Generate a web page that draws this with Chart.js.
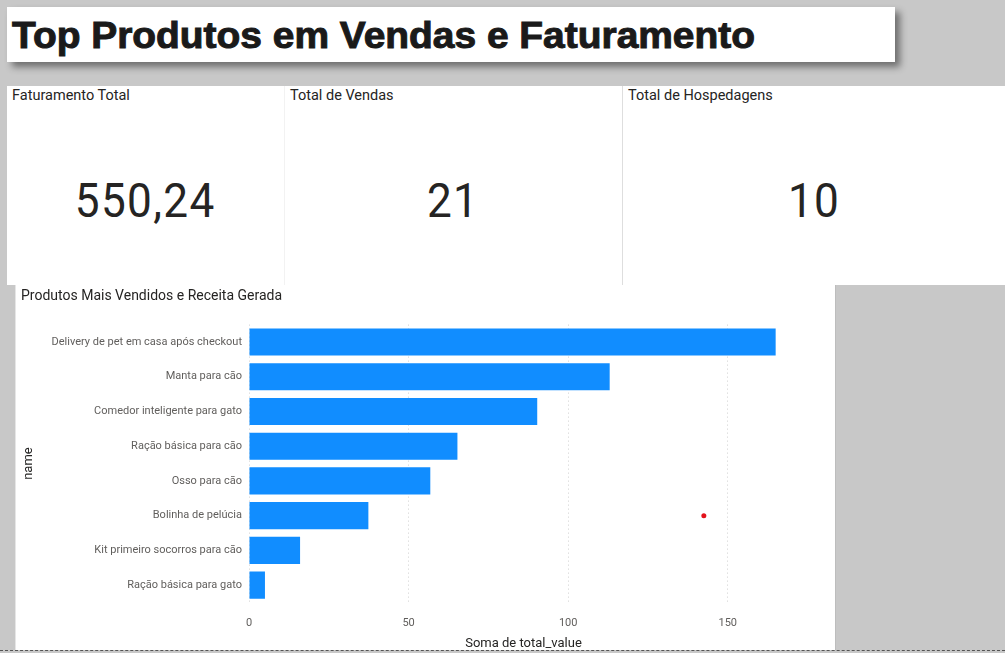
<!DOCTYPE html>
<html>
<head>
<meta charset="utf-8">
<script src="https://cdn.jsdelivr.net/npm/chart.js@4"></script>
<style>
  html, body { margin:0; padding:0; }
  body { width:1005px; height:653px; background:#c8c8c8; position:relative; overflow:hidden; font-family: Roboto, "Noto Sans", sans-serif; }
  .titlebox { position:absolute; left:7px; top:7px; width:888px; height:55px; background:#fff; box-shadow: 5px 5px 7px rgba(0,0,0,0.45); }
  .titlebox span { position:absolute; left:5px; top:7px; font-family:"Liberation Sans", Arial, sans-serif; font-weight:bold; font-size:37px; color:#1a1a1a; white-space:nowrap; transform-origin:left top; line-height:44px; -webkit-text-stroke:1px #1a1a1a; }
  .cards { position:absolute; left:7px; top:86px; width:998px; height:199px; background:#fff; }
  .card { position:absolute; top:0; height:199px; }
  .card .lbl { position:absolute; left:5px; top:1px; font-size:14.5px; color:#252423; white-space:nowrap; }
  .card .val { position:absolute; left:0; right:0; top:87px; text-align:center; font-size:49px; color:#252423; line-height:56px; letter-spacing:1.5px; }
  .div1 { position:absolute; left:277px; top:0; width:1px; height:199px; background:#f2f2f2; }
  .div2 { position:absolute; left:615px; top:0; width:1px; height:199px; background:#dedede; }
  .panel { position:absolute; left:15px; top:285px; width:821px; height:365px; background:#fff; border-right:1px solid #bdbdbd; border-left:1px solid #e6e6e6; box-sizing:border-box; overflow:visible; }
  .ptitle { position:absolute; left:5px; top:2px; font-size:14px; color:#252423; white-space:nowrap; }
  #c { position:absolute; left:0; top:0; }
  .dash { position:absolute; left:0; top:650px; width:1005px; height:0; border-top:1px dashed #555; }
</style>
</head>
<body>
<div class="titlebox"><span id="ttl">Top Produtos em Vendas e Faturamento</span></div>
<div class="cards">
  <div class="card" style="left:0;width:277px;"><div class="lbl">Faturamento Total</div><div class="val" id="v1"></div></div>
  <div class="card" style="left:278px;width:337px;"><div class="lbl">Total de Vendas</div><div class="val" id="v2"></div></div>
  <div class="card" style="left:616px;width:382px;"><div class="lbl">Total de Hospedagens</div><div class="val" id="v3"></div></div>
  <div class="div1"></div><div class="div2"></div>
</div>
<div class="panel">
  <canvas id="c" width="820" height="367"></canvas>
  <div class="ptitle">Produtos Mais Vendidos e Receita Gerada</div>
</div>
<div class="dash"></div>
<script>
const kpiLabels = ["Faturamento Total", "Total de Vendas", "Total de Hospedagens"];
const kpiValues = ["550,24", "21", "10"];
const categories = [
  "Delivery de pet em casa após checkout",
  "Manta para cão",
  "Comedor inteligente para gato",
  "Ração básica para cão",
  "Osso para cão",
  "Bolinha de pelúcia",
  "Kit primeiro socorros para cão",
  "Ração básica para gato"
];
const totalValue = [165.0, 113.0, 90.3, 65.3, 56.8, 37.4, 16.0, 5.0];
const markerPoint = [null, null, null, null, null, 142.5, null, null];
const xTicks = [0, 50, 100, 150];

['v1','v2','v3'].forEach((id, i) => {
  const el = document.getElementById(id);
  el.innerHTML = '<span style="display:inline-block;transform:scaleX(0.9);transform-origin:center;">' + kpiValues[i] + '</span>';
});

// fit title width
const ttl = document.getElementById('ttl');
const w = ttl.getBoundingClientRect().width;
ttl.style.transform = 'scaleX(' + (743 / w) + ')';

new Chart(document.getElementById('c'), {
  type: 'bar',
  data: {
    labels: categories,
    datasets: [
      {
        label: 'Soma de total_value',
        data: totalValue,
        backgroundColor: '#118DFF',
        borderWidth: 0,
        barPercentage: 0.78,
        categoryPercentage: 1.0,
        indexAxis: 'y'
      },
      {
        type: 'line',
        label: 'marker',
        data: markerPoint,
        indexAxis: 'y',
        showLine: false,
        pointRadius: 2.5,
        pointBackgroundColor: '#e3121b',
        pointBorderWidth: 0
      }
    ]
  },
  options: {
    indexAxis: 'y',
    responsive: false,
    animation: false,
    layout: { padding: { top: 39.6, right: 38, left: 0, bottom: 0 } },
    plugins: { legend: { display: false }, tooltip: { enabled: false } },
    scales: {
      x: {
        type: 'linear',
        min: 0,
        max: 172,
        afterFit: s => { s.height = 49.5; },
        afterBuildTicks: s => { s.ticks = xTicks.map(v => ({ value: v })); },
        grid: { color: '#cfcfcf', drawTicks: false, lineWidth: 1 },
        border: { display: false, dash: [1, 3] },
        ticks: { color: '#605E5C', font: { family: 'Roboto', size: 11 }, padding: 14 },
        title: { display: true, text: 'Soma de total_value', color: '#252423', font: { family: 'Roboto', size: 13 }, padding: { top: 0, bottom: 0 } }
      },
      y: {
        type: 'category',
        afterFit: s => { s.width = 233; },
        grid: { display: false, drawTicks: false },
        border: { display: false },
        ticks: { color: '#605E5C', font: { family: 'Roboto', size: 11 }, padding: 7 },
        title: { display: true, text: 'name', color: '#252423', font: { family: 'Roboto', size: 13 }, padding: { top: 5, bottom: 0 } }
      }
    }
  }
});
</script>
</body>
</html>
